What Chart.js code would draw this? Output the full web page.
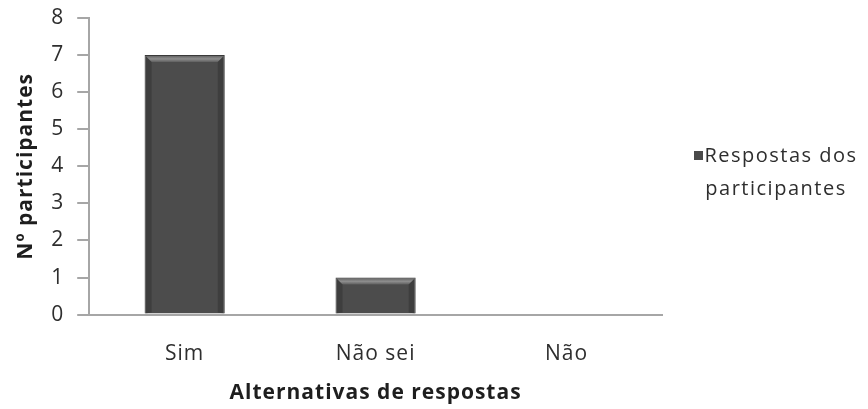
<!DOCTYPE html>
<html lang="pt">
<head>
<meta charset="utf-8">
<title>Alternativas de respostas</title>
<script src="https://cdn.jsdelivr.net/npm/chart.js@4/dist/chart.umd.min.js"></script>
<style>
  html, body { margin: 0; padding: 0; background: #ffffff; }
  #wrap { position: relative; width: 868px; height: 409px; }
  #legend {
    position: absolute; left: 684px; top: 138px; width: 184px;
    font-family: "Open Sans", sans-serif; font-size: 20px; color: #2e2e2e;
    line-height: 33px; text-align: center; letter-spacing: 1.5px;
  }
  #legend .sw {
    display: inline-block; width: 9px; height: 9px; background: #4a4a4a;
    margin-right: 1px; vertical-align: 2px;
  }
</style>
</head>
<body>
<div id="wrap">
  <canvas id="c" width="868" height="409"></canvas>
  <div id="legend"><span class="sw"></span>Respostas dos<br>participantes</div>
</div>
<script>
// Categories and values
const categories = ["Sim", "Não sei", "Não"];
const seriesName = "Respostas dos participantes";
const respostas = [7, 1, 0];
const yTicks = [0, 1, 2, 3, 4, 5, 6, 7, 8];

const fontFamily = "'Open Sans', sans-serif";
const textColor = "#2e2e2e";
const axisColor = "#a6a6a6";

// Slightly wider letter spacing for all canvas text
const spacing = {
  id: "spacing",
  beforeInit(chart) { chart.ctx.letterSpacing = "1px"; },
  beforeLayout(chart) { chart.ctx.letterSpacing = "1px"; },
  beforeDraw(chart) { chart.ctx.letterSpacing = "1px"; }
};

// Bar fill: darker sides, slightly lighter centre
function barFill(ctx) {
  const el = ctx.element;
  const chart = ctx.chart;
  if (!el || el.x === undefined || !chart.chartArea) return "#4c4c4c";
  const half = el.width / 2 || 40;
  const g = chart.ctx.createLinearGradient(el.x - half, 0, el.x + half, 0);
  g.addColorStop(0, "#363636");
  g.addColorStop(0.08, "#474747");
  g.addColorStop(0.5, "#525252");
  g.addColorStop(0.92, "#474747");
  g.addColorStop(1, "#363636");
  return g;
}

// Bevel highlight along the top edge of each bar
const bevel = {
  id: "bevel",
  afterDatasetsDraw(chart) {
    const ctx = chart.ctx;
    chart.getDatasetMeta(0).data.forEach((bar) => {
      const h = bar.base - bar.y;
      if (h < 2) return;
      const l = bar.x - bar.width / 2, r = bar.x + bar.width / 2, t = bar.y;
      const b = Math.min(7, h / 3);
      ctx.save();
      const g = ctx.createLinearGradient(0, t, 0, t + b);
      g.addColorStop(0, "#5a5a5a");
      g.addColorStop(0.55, "#8e8e8e");
      g.addColorStop(1, "#5e5e5e");
      ctx.fillStyle = g;
      ctx.beginPath();
      ctx.moveTo(l + 1, t + 1);
      ctx.lineTo(r - 1, t + 1);
      ctx.lineTo(r - b, t + b);
      ctx.lineTo(l + b, t + b);
      ctx.closePath();
      ctx.fill();
      ctx.fillStyle = "rgba(30,30,30,0.3)";
      ctx.beginPath();
      ctx.moveTo(l + 1, t + 1);
      ctx.lineTo(l + b, t + b);
      ctx.lineTo(l + b, bar.base - 1);
      ctx.lineTo(l + 1, bar.base);
      ctx.closePath();
      ctx.fill();
      ctx.beginPath();
      ctx.moveTo(r - 1, t + 1);
      ctx.lineTo(r - b, t + b);
      ctx.lineTo(r - b, bar.base - 1);
      ctx.lineTo(r - 1, bar.base);
      ctx.closePath();
      ctx.fill();
      ctx.restore();
    });
  }
};

new Chart(document.getElementById("c"), {
  type: "bar",
  data: {
    labels: categories,
    datasets: [{
      label: seriesName,
      data: respostas,
      backgroundColor: barFill,
      borderColor: "#3a3a3a",
      borderWidth: 1,
      barPercentage: 0.42,
      categoryPercentage: 1.0
    }]
  },
  plugins: [spacing, bevel],
  options: {
    responsive: false,
    animation: false,
    devicePixelRatio: 1,
    layout: { padding: { left: 13, right: 206, top: 18, bottom: 3 } },
    plugins: {
      legend: { display: false },
      tooltip: { enabled: false }
    },
    scales: {
      x: {
        grid: { display: false, drawTicks: false },
        border: { display: true, color: axisColor, width: 2 },
        ticks: {
          color: textColor, padding: 27, maxRotation: 0,
          font: { family: fontFamily, size: 21 }
        },
        title: {
          display: true, text: "Alternativas de respostas", color: "#1e1e1e",
          padding: { top: -13, bottom: 0 },
          font: { family: fontFamily, size: 21, weight: "bold" }
        }
      },
      y: {
        min: 0, max: 8,
        afterBuildTicks(scale) { scale.ticks = yTicks.map(v => ({ value: v })); },
        // the top label may extend above the plot area
        afterFit(scale) { scale.paddingTop = 0; scale.paddingBottom = 0; },
        grid: { drawOnChartArea: false, drawTicks: true, tickLength: 12, color: axisColor, lineWidth: 2 },
        border: { display: true, color: axisColor, width: 2 },
        ticks: {
          color: textColor, padding: 13,
          font: { family: fontFamily, size: 21 }
        },
        title: {
          display: true, text: "Nº participantes", color: "#1e1e1e",
          padding: { top: 0, bottom: 0 },
          font: { family: fontFamily, size: 21, weight: "bold" }
        }
      }
    }
  }
});
</script>
</body>
</html>
